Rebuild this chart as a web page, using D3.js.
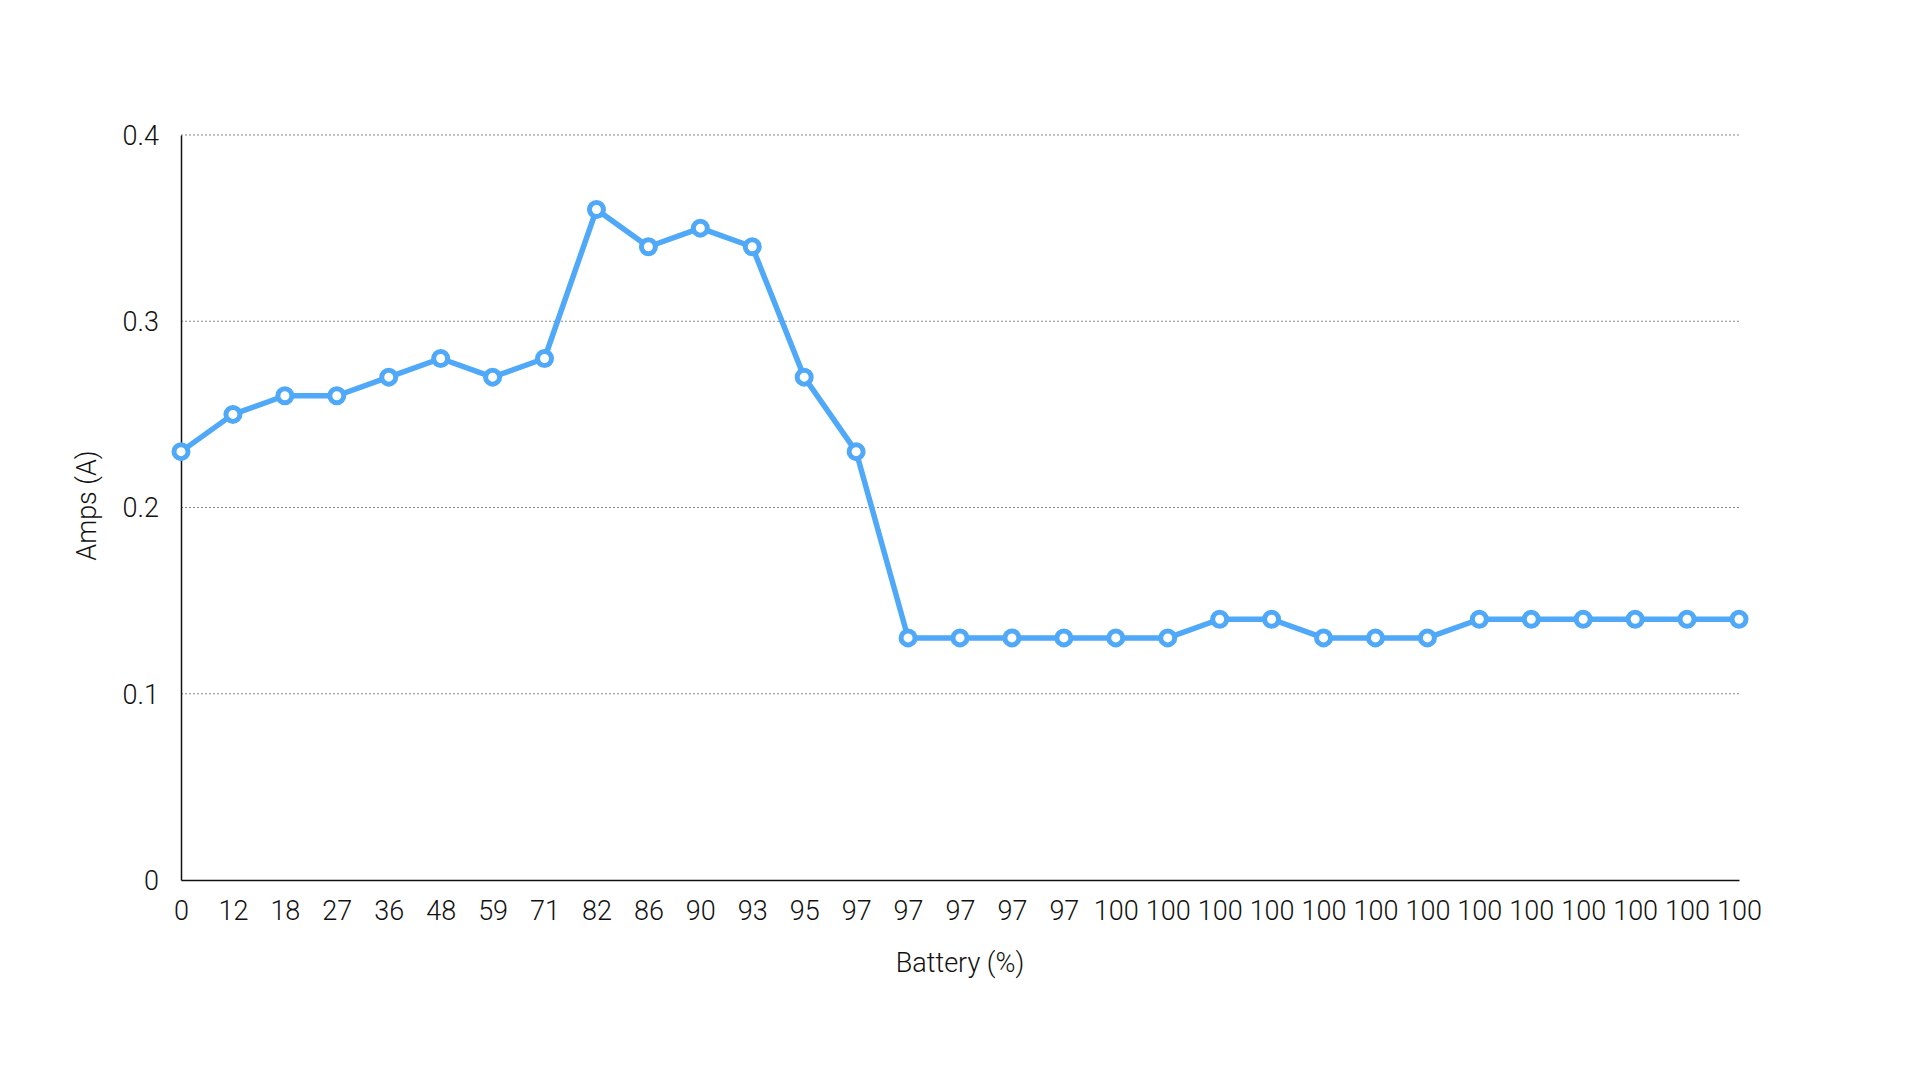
<!doctype html>
<html>
<head>
<meta charset="utf-8">
<title>Amps vs Battery</title>
<script src="https://cdn.jsdelivr.net/npm/d3@7"></script>
<style>
    html, body { margin: 0; padding: 0; background: #fff; }
    text { font-family: "Roboto", "Helvetica Neue", sans-serif; font-weight: 300; fill: #111; }
</style>
</head>
<body>
<div id="chart-area"></div>
<script>
// Data
var battery = ["0","12","18","27","36","48","59","71","82","86","90","93","95","97",
    "97","97","97","97","100","100","100","100","100","100","100","100","100","100","100","100","100"];
var amps = [0.23,0.25,0.26,0.26,0.27,0.28,0.27,0.28,0.36,0.34,0.35,0.34,0.27,0.23,
    0.13,0.13,0.13,0.13,0.13,0.13,0.14,0.14,0.13,0.13,0.13,0.14,0.14,0.14,0.14,0.14,0.14];
var yTicks = [0, 0.1, 0.2, 0.3, 0.4];

var margin = { left:181, right:181, top:135, bottom:200 };
var width = 1920 - margin.left - margin.right,
    height = 1080 - margin.top - margin.bottom;

var svg = d3.select("#chart-area").append("svg").attr("width", 1920).attr("height", 1080);
var g = svg.append("g").attr("transform", "translate(" + margin.left + "," + margin.top + ")");

var idx = d3.range(amps.length);

// Scales
var x = d3.scaleLinear().domain([0, amps.length - 1]).range([0, width]);
var y = d3.scaleLinear().domain([0, 0.4]).range([height, 0]);

// Gridlines
g.append("g").selectAll("line").data(yTicks.filter(function(d){ return d > 0; }))
    .enter().append("line")
    .attr("x1", 0).attr("x2", width)
    .attr("y1", function(d){ return y(d); }).attr("y2", function(d){ return y(d); })
    .attr("stroke", "#888").attr("stroke-width", 1).attr("stroke-dasharray", "2,2");

// Y axis
var yAxisCall = d3.axisLeft(y).tickValues(yTicks).tickSize(0).tickPadding(22)
    .tickFormat(function(d){ return d === 0 ? "0" : d3.format(".1f")(d); });
var yAxis = g.append("g").attr("class", "y axis").call(yAxisCall);
yAxis.select(".domain").attr("stroke", "#111").attr("stroke-width", 1.5);
yAxis.selectAll("text").attr("font-size", "27px").attr("dy", "0.35em");

// X axis
var xAxisCall = d3.axisBottom(x).tickValues(idx).tickSize(0).tickPadding(21)
    .tickFormat(function(i){ return battery[i]; });
var xAxis = g.append("g").attr("class", "x axis").attr("transform", "translate(0," + height + ")").call(xAxisCall);
xAxis.select(".domain").attr("stroke", "#111").attr("stroke-width", 1.5);
xAxis.selectAll("text").attr("font-size", "27px");

// Labels
g.append("text").attr("x", width / 2).attr("y", height + 92)
    .attr("font-size", "27px").attr("text-anchor", "middle").text("Battery (%)");
g.append("text").attr("transform", "rotate(-90)")
    .attr("x", -height / 2 + 2).attr("y", -85)
    .attr("font-size", "27px").attr("text-anchor", "middle").text("Amps (A)");

// Line
var line = d3.line().x(function(i){ return x(i); }).y(function(i){ return y(amps[i]); });
g.append("path").datum(idx)
    .attr("d", line)
    .attr("fill", "none")
    .attr("stroke", "#4fa8f8")
    .attr("stroke-width", 5.5)
    .attr("stroke-linejoin", "round");

// Points
g.selectAll("circle").data(idx).enter().append("circle")
    .attr("cx", function(i){ return x(i); })
    .attr("cy", function(i){ return y(amps[i]); })
    .attr("r", 7)
    .attr("fill", "#fff")
    .attr("stroke", "#4fa8f8")
    .attr("stroke-width", 5);
</script>
</body>
</html>
